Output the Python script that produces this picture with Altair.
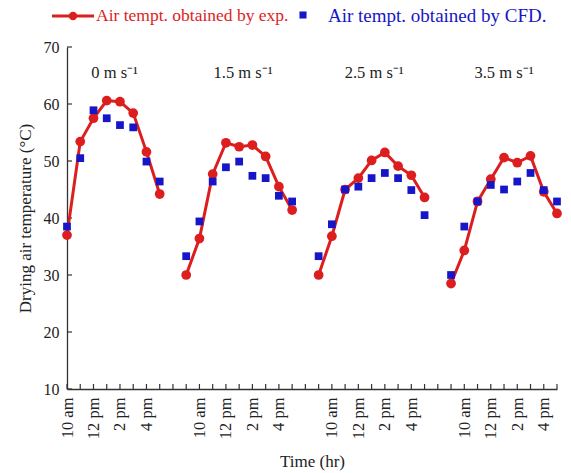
import altair as alt
import pandas as pd

# Hourly slots along the time axis (four air-velocity runs, each starting a new block)
slot_0 = [0, 1, 2, 3, 4, 5, 6, 7]
slot_15 = [9, 10, 11, 12, 13, 14, 15, 16, 17]
slot_25 = [19, 20, 21, 22, 23, 24, 25, 26, 27]
slot_35 = [29, 30, 31, 32, 33, 34, 35, 36, 37]

# Measured drying-air temperature (°C)
exp_0 = [37.0, 53.4, 57.5, 60.6, 60.4, 58.4, 51.6, 44.2]
exp_15 = [30.0, 36.4, 47.7, 53.2, 52.5, 52.8, 50.8, 45.5, 41.4]
exp_25 = [30.0, 36.8, 45.0, 47.0, 50.1, 51.5, 49.1, 47.5, 43.6]
exp_35 = [28.5, 34.3, 42.9, 46.8, 50.6, 49.7, 50.9, 44.6, 40.8]

# CFD-predicted drying-air temperature (°C)
cfd_0 = [38.5, 50.5, 58.9, 57.5, 56.3, 55.9, 49.9, 46.4]
cfd_15 = [33.3, 39.4, 46.4, 48.9, 49.9, 47.4, 47.0, 43.9, 42.9]
cfd_25 = [33.3, 38.9, 45.0, 45.5, 47.0, 47.9, 47.0, 44.9, 40.5]
cfd_35 = [30.0, 38.5, 42.9, 45.8, 45.0, 46.4, 47.9, 44.9, 42.9]

speeds = ["0 m s\u207b\u00b9", "1.5 m s\u207b\u00b9", "2.5 m s\u207b\u00b9", "3.5 m s\u207b\u00b9"]
speed_slot = [3.6, 13.3, 23.2, 33.0]
speed_temp = [65.4, 65.4, 65.4, 65.4]

tick_pos = [0, 2, 4, 6, 10, 12, 14, 16, 20, 22, 24, 26, 30, 32, 34, 36]
tick_text = ["10 am", "12 pm", "2 pm", "4 pm",
             "10 am", "12 pm", "2 pm", "4 pm",
             "10 am", "12 pm", "2 pm", "4 pm",
             "10 am", "12 pm", "2 pm", "4 pm"]
minor_ticks = list(range(0, 38))
y_ticks = [10, 20, 30, 40, 50, 60, 70]

RED = "#dc1e1e"
BLUE = "#1616c8"
FONT = "Liberation Serif"
W, H = 490, 342

rows = []
for name, slots, ex, cf in [
    (speeds[0], slot_0, exp_0, cfd_0),
    (speeds[1], slot_15, exp_15, cfd_15),
    (speeds[2], slot_25, exp_25, cfd_25),
    (speeds[3], slot_35, exp_35, cfd_35),
]:
    for s, e, c in zip(slots, ex, cf):
        rows.append({"run": name, "slot": s, "exp": e, "cfd": c})
df = pd.DataFrame(rows)

label_expr = "".join(f"datum.value == {p} ? '{t}' : " for p, t in zip(tick_pos, tick_text)) + "''"

x_scale = alt.Scale(domain=[0, 37], nice=False, zero=False)
y_scale = alt.Scale(domain=[10, 70], nice=False, zero=False)

x_axis = alt.Axis(values=tick_pos, labelExpr=label_expr, ticks=False, grid=False,
                  labelAngle=-90, labelFont=FONT, labelFontSize=16.5, labelColor="#222",
                  labelPadding=8, labelOverlap=False, labelBound=False, labelFlush=False,
                  domainColor="#333", domainWidth=1.3,
                  title="Time (hr)", titleFont=FONT, titleFontSize=17,
                  titleFontWeight="normal", titleColor="#222", titlePadding=15)
y_axis = alt.Axis(values=y_ticks, ticks=False, grid=False, labelFont=FONT,
                  labelFontSize=16, labelColor="#222", labelPadding=8,
                  domainColor="#333", domainWidth=1.3,
                  title="Drying air temperature (\u00b0C)", titleFont=FONT,
                  titleFontSize=17, titleFontWeight="normal", titleColor="#222",
                  titlePadding=9)

X = alt.X("slot:Q", scale=x_scale, axis=x_axis)


def Y(field):
    return alt.Y(field, scale=y_scale, axis=y_axis)


base = alt.Chart(df)

exp_line = base.mark_line(color=RED, strokeWidth=3).encode(
    x=X, y=Y("exp:Q"), detail="run:N",
)
exp_pts = base.mark_point(filled=True, shape="circle", size=95, color=RED, opacity=1).encode(
    x=X, y=Y("exp:Q")
)
cfd_pts = base.mark_point(filled=True, shape="square", size=60, color=BLUE, opacity=1).encode(
    x=X, y=Y("cfd:Q")
)

# inward-pointing tick marks
x_tick_marks = alt.Chart(pd.DataFrame({"slot": minor_ticks})).mark_rule(
    color="#333", strokeWidth=1.2).encode(
    x=X, y=alt.value(H), y2=alt.value(H - 5)
)
y_tick_marks = alt.Chart(pd.DataFrame({"temp": y_ticks})).mark_rule(
    color="#333", strokeWidth=1.2).encode(
    y=Y("temp:Q"), x=alt.value(0), x2=alt.value(5)
)

run_labels = alt.Chart(pd.DataFrame({"run": speeds, "slot": speed_slot, "temp": speed_temp})).mark_text(
    font=FONT, fontSize=16.5, color="#222", align="center", baseline="middle").encode(
    x=X, y=Y("temp:Q"), text="run:N"
)

# legend drawn above the plot area
legend_line = alt.Chart(pd.DataFrame({"k": [0]})).mark_rule(color=RED, strokeWidth=3).encode(
    x=alt.value(-15), x2=alt.value(27), y=alt.value(-31)
)
legend_dot = alt.Chart(pd.DataFrame({"k": [0]})).mark_point(
    filled=True, shape="circle", size=70, color=RED, opacity=1).encode(
    x=alt.value(6), y=alt.value(-31)
)
legend_exp = alt.Chart(pd.DataFrame({"t": ["Air tempt. obtained by exp."]})).mark_text(
    font=FONT, fontSize=17.5, color=RED, align="left", baseline="middle").encode(
    x=alt.value(29), y=alt.value(-31), text="t:N"
)
legend_sq = alt.Chart(pd.DataFrame({"k": [0]})).mark_point(
    filled=True, shape="square", size=50, color=BLUE, opacity=1).encode(
    x=alt.value(236), y=alt.value(-32)
)
legend_cfd = alt.Chart(pd.DataFrame({"t": ["Air tempt. obtained by CFD."]})).mark_text(
    font=FONT, fontSize=19, color=BLUE, align="left", baseline="middle").encode(
    x=alt.value(261), y=alt.value(-31), text="t:N"
)

chart = alt.layer(
    x_tick_marks, y_tick_marks, exp_line, exp_pts, cfd_pts, run_labels,
    legend_line, legend_dot, legend_exp, legend_sq, legend_cfd,
).properties(
    width=W, height=H,
    autosize=alt.AutoSizeParams(type="none"),
    padding={"left": 67, "top": 47, "right": 14, "bottom": 84},
    background="white",
).configure_view(stroke=None)

chart.save("out.html", embed_options={"renderer": "svg", "actions": False})
